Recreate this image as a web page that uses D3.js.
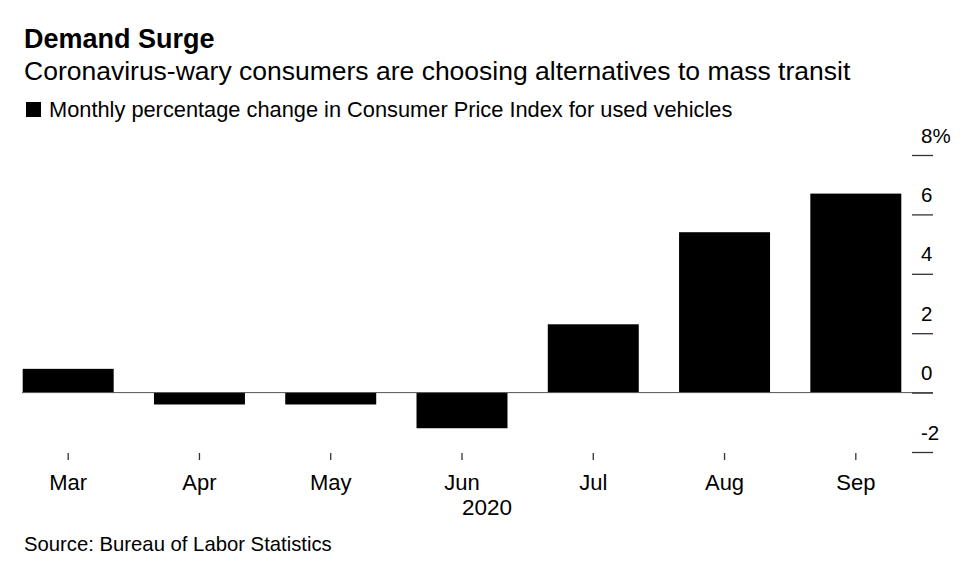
<!DOCTYPE html>
<html>
<head>
<meta charset="utf-8">
<script src="https://cdn.jsdelivr.net/npm/d3@7/dist/d3.min.js"></script>
<style>
  body { margin: 0; background: #fff; }
  text { font-family: "Liberation Sans", Arial, sans-serif; fill: #000; }
</style>
</head>
<body>
<script>
// Data
const months = ["Mar", "Apr", "May", "Jun", "Jul", "Aug", "Sep"];
const changes = [0.8, -0.4, -0.4, -1.2, 2.3, 5.4, 6.7];
const yTicks = [-2, 0, 2, 4, 6, 8];
const yearLabel = "2020";

const W = 977, H = 578;

const svg = d3.select("body")
  .append("svg")
  .attr("width", W)
  .attr("height", H);

// scales
const x = d3.scaleBand()
  .domain(months)
  .range([22.7, 901.3])
  .paddingInner(0.307)
  .paddingOuter(0);

const y = d3.scaleLinear()
  .domain([-2, 8])
  .range([452, 155]);

// titles
svg.append("text")
  .attr("x", 24).attr("y", 48)
  .style("font-size", "27px")
  .style("font-weight", "bold")
  .text("Demand Surge");

svg.append("text")
  .attr("x", 24).attr("y", 80)
  .style("font-size", "26.5px")
  .text("Coronavirus-wary consumers are choosing alternatives to mass transit");

// legend
svg.append("rect")
  .attr("x", 26).attr("y", 102)
  .attr("width", 15).attr("height", 15)
  .attr("fill", "#000");

svg.append("text")
  .attr("x", 49).attr("y", 116.5)
  .style("font-size", "21.8px")
  .text("Monthly percentage change in Consumer Price Index for used vehicles");

// bars
svg.selectAll(".bar")
  .data(months.map((m, i) => ({ month: m, value: changes[i] })))
  .enter()
  .append("rect")
  .attr("class", "bar")
  .attr("x", d => x(d.month))
  .attr("width", x.bandwidth())
  .attr("y", d => y(Math.max(0, d.value)))
  .attr("height", d => Math.abs(y(d.value) - y(0)))
  .attr("fill", "#000");

// zero line
svg.append("line")
  .attr("x1", 22).attr("x2", 933)
  .attr("y1", y(0)).attr("y2", y(0))
  .attr("stroke", "#555")
  .attr("stroke-width", 1);

// y axis on the right: tick marks with labels sitting above
const yAxis = svg.append("g")
  .attr("transform", "translate(912,0)")
  .call(d3.axisRight(y).tickValues(yTicks).tickSize(21)
    .tickFormat(d => d === 8 ? "8%" : d));
yAxis.select(".domain").remove();
yAxis.selectAll(".tick line").attr("stroke", "#333").attr("stroke-width", 1.3);
yAxis.selectAll(".tick text")
  .attr("x", 9)
  .attr("y", -13)
  .attr("dy", 0)
  .style("font-size", "20.5px")
  .attr("text-anchor", "start");

// x axis: small tick marks below, month labels
const xAxis = svg.append("g")
  .attr("transform", "translate(0,453)")
  .call(d3.axisBottom(x).tickSize(7));
xAxis.select(".domain").remove();
xAxis.selectAll(".tick line").attr("stroke", "#333").attr("stroke-width", 1.3);
xAxis.selectAll(".tick text")
  .attr("y", 37)
  .attr("dy", 0)
  .style("font-size", "22px");

// year label starts under the Jun tick
svg.append("text")
  .attr("x", x("Jun") + x.bandwidth() / 2)
  .attr("y", 515)
  .style("font-size", "22.5px")
  .text(yearLabel);

// source
svg.append("text")
  .attr("x", 24).attr("y", 551)
  .style("font-size", "20.3px")
  .text("Source: Bureau of Labor Statistics");
</script>
</body>
</html>
